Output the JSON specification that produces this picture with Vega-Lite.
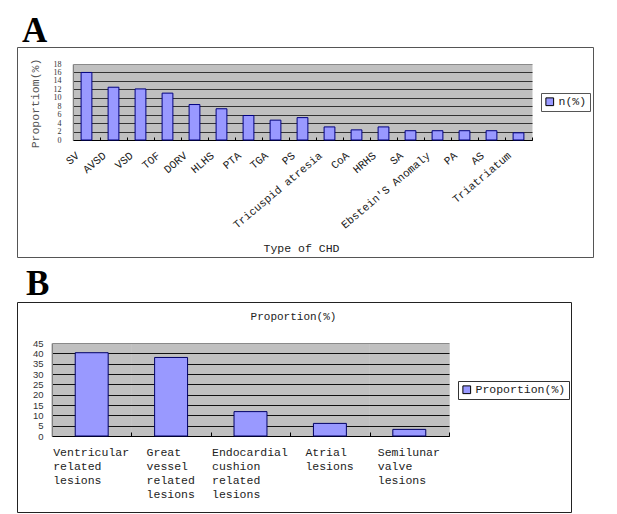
{
  "$schema": "https://vega.github.io/schema/vega-lite/v6.json",
  "padding": {"left": 12, "top": 13, "right": 0, "bottom": 0},
  "spacing": 8,
  "config": {"font": "Liberation Mono", "background": "white"},
  "resolve": {"scale": {"color": "independent"}, "legend": {"color": "independent"}},
  "vconcat": [
    {
      "title": {"text": "A", "anchor": "start", "frame": "group", "font": "Liberation Serif", "fontSize": 35, "fontWeight": "bold", "color": "#000", "dx": 5, "offset": -30, "baseline": "alphabetic"},
      "width": 576,
      "height": 210,
      "view": {"stroke": "#555", "strokeWidth": 1, "fill": "white"},
      "data": {"values": [
        {"type": "SV", "value": 16.0, "series": "n(%)"},
        {"type": "AVSD", "value": 12.5, "series": "n(%)"},
        {"type": "VSD", "value": 12.1, "series": "n(%)"},
        {"type": "TOF", "value": 11.1, "series": "n(%)"},
        {"type": "DORV", "value": 8.4, "series": "n(%)"},
        {"type": "HLHS", "value": 7.4, "series": "n(%)"},
        {"type": "PTA", "value": 5.8, "series": "n(%)"},
        {"type": "TGA", "value": 4.7, "series": "n(%)"},
        {"type": "PS", "value": 5.3, "series": "n(%)"},
        {"type": "Tricuspid atresia", "value": 3.1, "series": "n(%)"},
        {"type": "CoA", "value": 2.4, "series": "n(%)"},
        {"type": "HRHS", "value": 3.1, "series": "n(%)"},
        {"type": "SA", "value": 2.2, "series": "n(%)"},
        {"type": "Ebstein'S Anomaly", "value": 2.2, "series": "n(%)"},
        {"type": "PA", "value": 2.2, "series": "n(%)"},
        {"type": "AS", "value": 2.2, "series": "n(%)"},
        {"type": "Triatriatum", "value": 1.7, "series": "n(%)"}
      ]},
      "resolve": {"axis": {"x": "independent"}},
      "encoding": {
        "y": {
          "field": "value", "type": "quantitative",
          "scale": {"domain": [0, 18], "range": [93, 17], "nice": false},
          "axis": {
            "title": "Proportiom(%)", "titleFont": "Liberation Mono", "titleFontSize": 11.5, "titleFontWeight": "normal", "titleColor": "#555",
            "titleX": -38, "titleY": 56, "titleAngle": 270, "titleAlign": "center", "titleBaseline": "middle",
            "offset": -56, "values": [0, 2, 4, 6, 8, 10, 12, 14, 16, 18],
            "labelFont": "Liberation Serif", "labelFontSize": 8, "labelColor": "#333", "labelPadding": 12, "labelOverlap": false, "labelFlush": false,
            "ticks": false, "domainColor": "#808080",
            "grid": true, "gridColor": {"condition": {"test": "datum.value === 18", "value": "#8a8a8a"}, "value": "#333"}, "gridOpacity": 1, "gridWidth": 1
          }
        }
      },
      "layer": [
        {
          "mark": {"type": "bar", "width": {"band": 0.4}, "opacity": 0},
          "encoding": {
            "x": {
              "field": "type", "type": "nominal", "sort": null,
              "scale": {"range": [56, 515], "paddingInner": 0, "paddingOuter": 0},
              "axis": {"orient": "top", "title": null, "labels": false, "ticks": false, "domain": false,
                       "grid": true, "gridColor": "#c0c0c0", "gridWidth": 28, "gridOpacity": 1}
            }
          }
        },
        {
          "mark": {"type": "bar", "width": {"band": 0.4}, "stroke": "#000080", "strokeWidth": 1},
          "encoding": {
            "x": {
              "field": "type", "type": "nominal", "sort": null,
              "axis": {
                "orient": "bottom",
                "title": "Type of CHD", "titleFont": "Liberation Mono", "titleFontSize": 11.5, "titleFontWeight": "normal", "titleColor": "#222",
                "titleX": 284, "titleY": 111, "titleAlign": "center", "titleBaseline": "alphabetic",
                "offset": -117, "labelAngle": -40, "labelAlign": "right", "labelBaseline": "middle", "labelPadding": 17, "labelOffset": -9,
                "labelFont": "Liberation Mono", "labelFontSize": 11, "labelColor": "#222", "labelOverlap": false, "labelLimit": 0,
                "ticks": true, "tickBand": "extent", "tickSize": -3, "tickColor": "#000",
                "domainColor": "#000", "domainWidth": 1, "grid": false
              }
            },
            "color": {
              "field": "series", "type": "nominal",
              "scale": {"range": ["#9999ff"]},
              "legend": {
                "title": null, "orient": "none", "legendX": 524, "legendY": 46,
                "strokeColor": "#555", "fillColor": "white", "padding": 3,
                "symbolType": "square", "symbolSize": 60, "symbolStrokeColor": "#000", "symbolStrokeWidth": 1,
                "labelFont": "Liberation Mono", "labelFontSize": 11.5, "labelColor": "#222", "labelOffset": 3
              }
            }
          }
        }
      ]
    },
    {
      "title": {"text": "B", "anchor": "start", "frame": "group", "font": "Liberation Serif", "fontSize": 35, "fontWeight": "bold", "color": "#000", "dx": 9, "offset": -28, "baseline": "alphabetic"},
      "width": 554,
      "height": 210,
      "view": {"stroke": "#222", "strokeWidth": 1, "fill": "white"},
      "data": {"values": [
        {"group": "Ventricular related lesions", "value": 40.3, "series": "Proportion(%)"},
        {"group": "Great vessel related lesions", "value": 38.0, "series": "Proportion(%)"},
        {"group": "Endocardial cushion related lesions", "value": 11.8, "series": "Proportion(%)"},
        {"group": "Atrial lesions", "value": 6.1, "series": "Proportion(%)"},
        {"group": "Semilunar valve lesions", "value": 3.2, "series": "Proportion(%)"}
      ]},
      "resolve": {"axis": {"x": "independent"}},
      "encoding": {
        "y": {
          "field": "value", "type": "quantitative",
          "scale": {"domain": [0, 45], "range": [134, 41], "nice": false},
          "axis": {
            "title": "Proportion(%)", "titleFont": "Liberation Mono", "titleFontSize": 11, "titleFontWeight": "normal", "titleColor": "#222",
            "titleX": 241, "titleY": 17, "titleAngle": 0, "titleAlign": "center", "titleBaseline": "alphabetic",
            "offset": -35, "values": [0, 5, 10, 15, 20, 25, 30, 35, 40, 45],
            "labelFont": "Liberation Sans", "labelFontSize": 9.5, "labelColor": "#333", "labelPadding": 9, "labelOverlap": false, "labelFlush": false,
            "ticks": false, "domainColor": "#808080",
            "grid": true, "gridColor": {"condition": {"test": "datum.value === 45", "value": "#8a8a8a"}, "value": "#111"}, "gridOpacity": 1, "gridWidth": 1
          }
        }
      },
      "layer": [
        {
          "mark": {"type": "bar", "width": {"band": 0.415}, "opacity": 0},
          "encoding": {
            "x": {
              "field": "group", "type": "nominal", "sort": null,
              "scale": {"range": [35, 432], "paddingInner": 0, "paddingOuter": 0},
              "axis": {"orient": "top", "title": null, "labels": false, "ticks": false, "domain": false,
                       "grid": true, "gridColor": "#c0c0c0", "gridWidth": 80.5, "gridOpacity": 1}
            }
          }
        },
        {
          "mark": {"type": "bar", "width": {"band": 0.415}, "stroke": "#000066", "strokeWidth": 1},
          "encoding": {
            "x": {
              "field": "group", "type": "nominal", "sort": null,
              "axis": {
                "orient": "bottom",
                "title": null, "offset": -76,
                "labelAngle": 0, "labelAlign": "left", "labelBaseline": "top", "labelPadding": 14,
                "labelFont": "Liberation Mono", "labelFontSize": 11.5, "labelLineHeight": 14, "labelColor": "#222",
                "labelExpr": "split(datum.label, ' ')", "labelOverlap": false, "labelLimit": 0,
                "labelOffset": {"condition": [
                  {"test": "datum.value === 'Great vessel related lesions' || datum.value === 'Atrial lesions'", "value": -25},
                  {"test": "datum.value === 'Semilunar valve lesions'", "value": -32}
                ], "value": -39},
                "ticks": true, "tickBand": "extent", "tickSize": -4, "tickColor": "#000",
                "domainColor": "#000", "domainWidth": 1, "grid": false
              }
            },
            "color": {
              "field": "series", "type": "nominal",
              "scale": {"range": ["#9999ff"]},
              "legend": {
                "title": null, "orient": "none", "legendX": 441, "legendY": 79,
                "strokeColor": "#333", "fillColor": "white", "padding": 3,
                "symbolType": "square", "symbolSize": 60, "symbolStrokeColor": "#000", "symbolStrokeWidth": 1,
                "labelFont": "Liberation Mono", "labelFontSize": 11.5, "labelColor": "#222", "labelOffset": 3
              }
            }
          }
        }
      ]
    }
  ]
}
